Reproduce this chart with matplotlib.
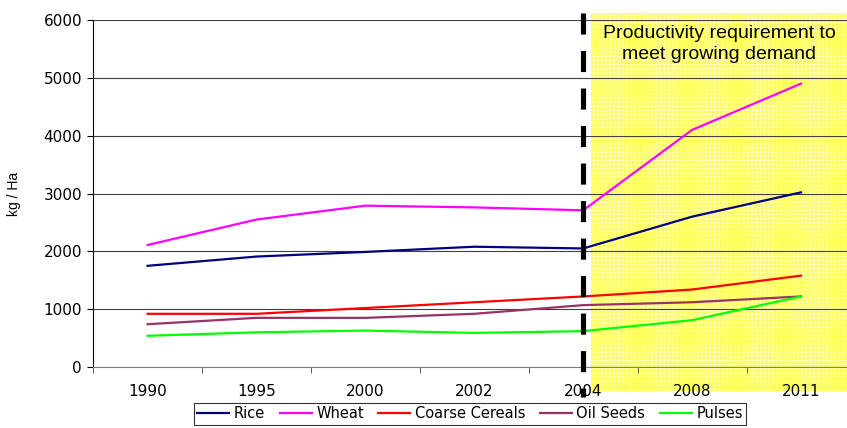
import numpy as np
import matplotlib.pyplot as plt
from matplotlib.patches import Rectangle

# данные (кг/га)
years = ['1990', '1995', '2000', '2002', '2004', '2008', '2011']
rice = [1750, 1910, 1990, 2080, 2050, 2600, 3020]
wheat = [2110, 2550, 2790, 2760, 2710, 4100, 4900]
coarse = [920, 920, 1020, 1120, 1220, 1340, 1580]
oilseeds = [740, 850, 850, 920, 1070, 1120, 1220]
pulses = [540, 600, 630, 590, 620, 810, 1220]

series = [('Rice', rice, '#000080'),
          ('Wheat', wheat, '#ff00ff'),
          ('Coarse Cereals', coarse, '#ff0000'),
          ('Oil Seeds', oilseeds, '#993366'),
          ('Pulses', pulses, '#00ff00')]

plt.rcParams['hatch.linewidth'] = 0.6
fig = plt.figure(figsize=(8.47, 4.28), dpi=100)
ax = fig.add_axes([0.110, 0.1425, 0.900, 0.8107])
x = np.arange(len(years))

# жёлтая зона прогноза
ax.add_patch(Rectangle((4.07, -0.07), 3.0, 1.09, transform=ax.get_xaxis_transform(),
                       facecolor='#ffff55', edgecolor='#ffffb8', hatch='++++', lw=0,
                       clip_on=False, zorder=0))

for name, vals, col in series:
    ax.plot(x, vals, color=col, lw=1.6, label=name, zorder=3)

# вертикальная пунктирная линия (рисуем сверху вниз)
ax.plot([4, 4], [1.021, -0.086], transform=ax.get_xaxis_transform(), color='black',
        lw=3.7, dashes=(4.1, 3.2), clip_on=False, zorder=4)

ax.text(5.25, 5580, 'Productivity requirement to\nmeet growing demand', ha='center', va='center',
        fontsize=14, family='Liberation Sans', linespacing=1.3, zorder=5)

ax.set_xlim(-0.5, 6.5)
ax.set_ylim(0, 6000)
ax.set_yticks(range(0, 6001, 1000))
ax.set_xticks(x)
ax.set_xticklabels(years)
ax.set_xticks(np.arange(-0.5, 6.6, 1), minor=True)
ax.tick_params(axis='x', which='major', length=0, pad=12, labelsize=11)
ax.tick_params(axis='x', which='minor', length=4, color='#404040')
ax.tick_params(axis='y', length=4, labelsize=11, pad=4)
ax.yaxis.grid(True, color='#404040', lw=0.8)
ax.set_axisbelow(True)
for s in ['top', 'right']:
    ax.spines[s].set_visible(False)
ax.spines['bottom'].set_color('#808080')
ax.spines['left'].set_color('black')
ax.set_ylabel('kg / Ha', family='Liberation Sans', fontsize=10, labelpad=16)

leg = fig.legend(loc='center', bbox_to_anchor=(0.555, 0.033), ncol=5, frameon=True, fancybox=False,
                 fontsize=10.5, handlelength=2.2, handletextpad=0.3, columnspacing=1.0,
                 borderpad=0.25, edgecolor='black')
leg.get_frame().set_linewidth(0.8)

plt.savefig('out.png', dpi=100)
